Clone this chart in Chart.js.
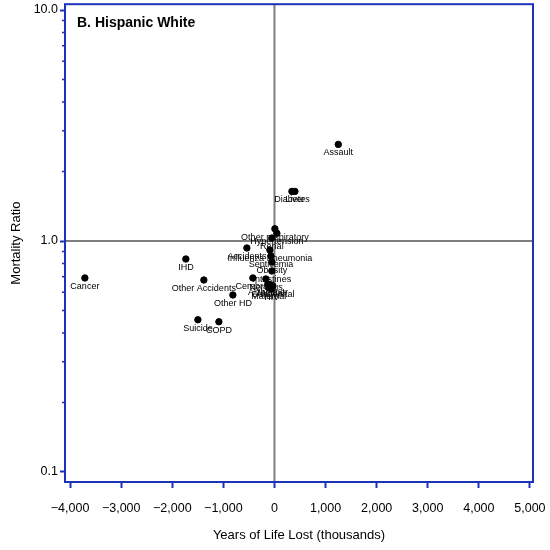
<!DOCTYPE html>
<html>
<head>
<meta charset="utf-8">
<script src="https://cdn.jsdelivr.net/npm/chart.js@4/dist/chart.umd.min.js"></script>
<style>
  html, body { margin: 0; padding: 0; background: #fff; }
  #wrap { width: 550px; height: 550px; }
</style>
</head>
<body>
<div id="wrap"><canvas id="chart" width="550" height="550"></canvas></div>
<script>
const causes = ["Cancer", "IHD", "Other Accidents", "Other HD", "Suicide", "COPD", "Accidents",
  "Assault", "Diabetes", "Liver", "Other respiratory", "Hypertension", "Renal",
  "Influenza Pneumonia", "Septicemia", "Obesity", "Intestines", "Cerebral", "Nervous",
  "Alzheimer", "Mental", "Congenital", "Maternal", "HIV"];
const yearsLost = [-3711, -1734, -1382, -814, -1499, -1088, -540,
  1249, 341, 400, 8, 47, -51,
  -90, -70, -51, -51, -423, -168,
  -129, -70, -31, -110, -51];
const mortalityRatio = [0.692, 0.836, 0.678, 0.584, 0.456, 0.447, 0.933,
  2.62, 1.64, 1.64, 1.13, 1.08, 1.03,
  0.914, 0.862, 0.811, 0.742, 0.692, 0.685,
  0.652, 0.646, 0.639, 0.627, 0.620];

const xTicks = [-4000, -3000, -2000, -1000, 0, 1000, 2000, 3000, 4000, 5000];
const yTicks = [0.1, 1, 10];
const yMinorTicks = [0.2, 0.3, 0.4, 0.5, 0.6, 0.7, 0.8, 0.9, 2, 3, 4, 5, 6, 7, 8, 9];

const blue = "#1a33b8";
const refGray = "#7f7f7f";
const font = "Arial, 'Liberation Sans', sans-serif";

const points = yearsLost.map((x, i) => ({ x: x, y: mortalityRatio[i] }));

const framePlugin = {
  id: "frame",
  beforeDraw(chart) {
    const ctx = chart.ctx;
    ctx.save();
    ctx.fillStyle = "#fff";
    ctx.fillRect(0, 0, chart.width, chart.height);
    ctx.restore();
  },
  beforeDatasetsDraw(chart) {
    const { ctx, chartArea: a, scales } = chart;
    const x0 = scales.x.getPixelForValue(0);
    const y1 = scales.y.getPixelForValue(1);
    ctx.save();
    ctx.strokeStyle = refGray;
    ctx.lineWidth = 2;
    ctx.beginPath();
    ctx.moveTo(x0, a.top); ctx.lineTo(x0, a.bottom);
    ctx.moveTo(a.left, y1); ctx.lineTo(a.right, y1);
    ctx.stroke();
    ctx.restore();
  },
  afterDatasetsDraw(chart) {
    const { ctx, chartArea: a, scales } = chart;
    ctx.save();
    // point labels
    const meta = chart.getDatasetMeta(0);
    ctx.fillStyle = "#000";
    ctx.font = "9px " + font;
    ctx.textAlign = "center";
    ctx.textBaseline = "top";
    meta.data.forEach((el, i) => {
      ctx.fillText(causes[i], el.x, el.y + 4);
    });
    // minor ticks on the log axis
    ctx.strokeStyle = blue;
    ctx.lineWidth = 1.5;
    ctx.beginPath();
    yMinorTicks.forEach(v => {
      const py = scales.y.getPixelForValue(v);
      ctx.moveTo(a.left - 3, py);
      ctx.lineTo(a.left, py);
    });
    ctx.stroke();
    // frame
    ctx.lineWidth = 2;
    ctx.strokeRect(a.left, a.top, a.right - a.left, a.bottom - a.top);
    // panel title
    ctx.fillStyle = "#000";
    ctx.font = "bold 14px " + font;
    ctx.textAlign = "left";
    ctx.textBaseline = "middle";
    ctx.fillText("B. Hispanic White", a.left + 12, a.top + 19);
    ctx.restore();
  }
};

function fmtX(v) {
  const s = Math.abs(v).toLocaleString("en-US");
  return v < 0 ? "\u2212" + s : s;
}

new Chart(document.getElementById("chart"), {
  type: "scatter",
  data: {
    datasets: [{
      data: points,
      backgroundColor: "#000",
      borderColor: "#000",
      pointRadius: 3.2,
      pointHoverRadius: 3.2,
    }],
  },
  options: {
    responsive: false,
    animation: false,
    layout: { padding: { top: 3, right: 17, bottom: 0, left: 0 } },
    plugins: {
      legend: { display: false },
      tooltip: { enabled: false },
    },
    scales: {
      x: {
        type: "linear",
        min: -4100,
        max: 5060,
        afterBuildTicks: s => { s.ticks = xTicks.map(v => ({ value: v })); },
        afterFit: s => { s.height = 68; s.paddingLeft = 0; s.paddingRight = 0; },
        grid: { drawOnChartArea: false, drawTicks: true, tickLength: 6, tickColor: blue, tickWidth: 2 },
        border: { display: false },
        ticks: {
          color: "#000",
          font: { family: font, size: 12.5 },
          padding: 13,
          maxRotation: 0,
          autoSkip: false,
          callback: v => fmtX(v),
        },
        title: {
          display: true,
          text: "Years of Life Lost (thousands)",
          color: "#000",
          font: { family: font, size: 13 },
          padding: { bottom: 7 },
        },
      },
      y: {
        type: "logarithmic",
        min: 0.0905,
        max: 10.6,
        afterBuildTicks: s => { s.ticks = yTicks.map(v => ({ value: v, major: true })); },
        afterFit: s => { s.width = 65; s.paddingTop = 0; s.paddingBottom = 0; },
        grid: { drawOnChartArea: false, drawTicks: true, tickLength: 5, tickColor: blue, tickWidth: 2 },
        border: { display: false },
        ticks: {
          color: "#000",
          font: { family: font, size: 12.5 },
          padding: 2,
          autoSkip: false,
          callback: v => Number(v).toFixed(1),
        },
        title: {
          display: true,
          text: "Mortality Ratio",
          color: "#000",
          font: { family: font, size: 13 },
          padding: { top: 9 },
        },
      },
    },
  },
  plugins: [framePlugin],
});
</script>
</body>
</html>
